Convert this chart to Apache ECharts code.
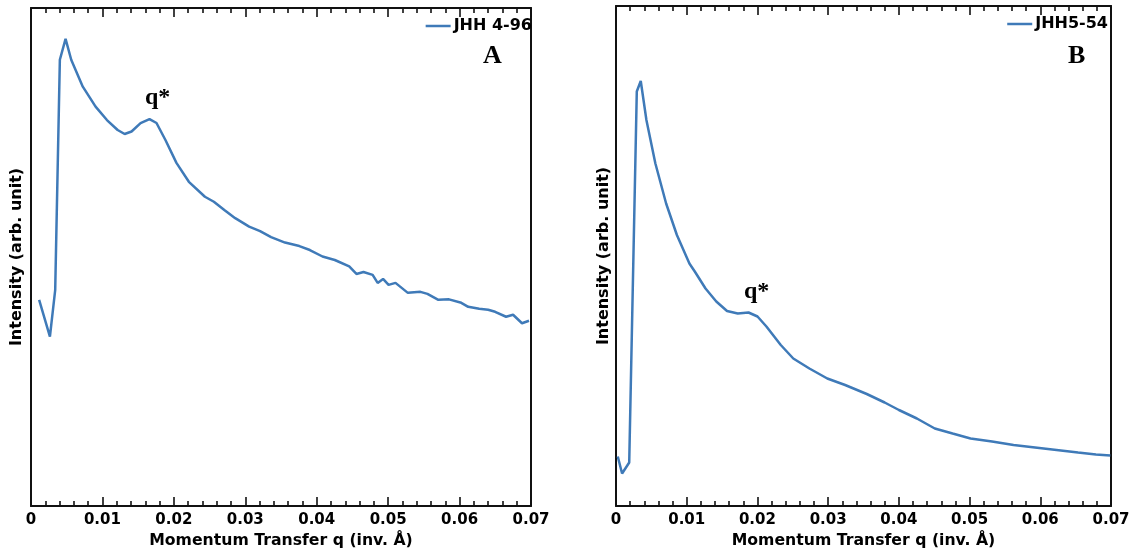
<!DOCTYPE html>
<html>
<head>
<meta charset="utf-8">
<script src="https://cdn.jsdelivr.net/npm/echarts@6/dist/echarts.min.js"></script>
<style>
html,body{margin:0;padding:0;background:#fff;}
#chart{width:1129px;height:548px;}
</style>
</head>
<body>
<div id="chart"></div>
<script>
// ---- Data ----
const seriesNameA = 'JHH 4-96';
const seriesNameB = 'JHH5-54';
const xTitle = 'Momentum Transfer q (inv. \u00C5)';
const yTitle = 'Intensity (arb. unit)';
const xTickValues = [0, 0.01, 0.02, 0.03, 0.04, 0.05, 0.06, 0.07];

// Panel A: q (inv. Å)
const qA = [0.00114,0.00265,0.00339,0.00404,0.00484,0.00563,0.00725,0.00904,0.01063,0.01213,
  0.01311,0.01408,0.01534,0.01659,0.01757,0.01882,0.02036,0.0221,0.02435,0.0256,
  0.02711,0.02859,0.03054,0.03207,0.03361,0.03556,0.03757,0.03904,0.04081,0.04253,
  0.04455,0.04556,0.04655,0.04783,0.04853,0.04929,0.05006,0.05103,0.05276,0.05452,
  0.0555,0.05703,0.05852,0.06024,0.06121,0.06275,0.064,0.06498,0.06651,0.06749,
  0.06874,0.06972];
// Panel A: intensity (arb. unit)
const iA = [41.4,34.0,43.4,89.6,93.8,89.6,84.2,80.2,77.5,75.5,
  74.7,75.2,76.9,77.7,76.9,73.5,68.9,65.1,62.1,61.1,
  59.4,57.8,56.1,55.2,54.0,52.9,52.2,51.4,50.1,49.4,
  48.1,46.6,47.0,46.4,44.8,45.6,44.4,44.8,42.8,43.0,
  42.6,41.4,41.5,40.8,40.0,39.6,39.4,39.0,38.0,38.4,
  36.7,37.2];

// Panel B: q (inv. Å)
const qB = [0.00025,0.00086,0.00187,0.00294,0.0035,0.0043,0.00557,0.00709,0.00861,0.01038,
  0.01114,0.01266,0.01418,0.0157,0.01722,0.01874,0.02001,0.02127,0.0233,0.02507,
  0.02735,0.02988,0.0324,0.03546,0.03799,0.04001,0.04255,0.04508,0.0476,0.05014,
  0.05318,0.05622,0.05926,0.0623,0.06534,0.06787,0.0699];
// Panel B: intensity (arb. unit)
const iB = [9.9,6.5,8.7,82.9,85.0,77.2,68.5,60.5,54.2,48.5,
  46.9,43.5,40.9,39.0,38.5,38.7,37.9,35.9,32.2,29.5,
  27.5,25.5,24.2,22.4,20.7,19.2,17.5,15.5,14.5,13.5,
  12.9,12.2,11.7,11.2,10.7,10.3,10.1];

const annotations = ['q*', 'A', 'B'];

// ---- Chart ----
const LINE = '#3f7ab8';
const AX = '#111';
const SANS = '"DejaVu Sans", sans-serif';
const SERIF = '"Liberation Serif", "DejaVu Serif", serif';

function zip(xs, ys){ return xs.map((x,i)=>[x, ys[i]]); }

function xAxisBottom(gi){
  return {
    type:'value', gridIndex:gi, position:'bottom',
    min:xTickValues[0], max:xTickValues[xTickValues.length-1], interval:0.01,
    axisLine:{show:true, onZero:false, lineStyle:{color:AX, width:2}},
    axisTick:{show:true, inside:true, length:9, lineStyle:{color:AX, width:1.6}},
    minorTick:{show:true, splitNumber:5, length:5, lineStyle:{color:AX, width:1.6}},
    splitLine:{show:false}, minorSplitLine:{show:false},
    axisLabel:{show:true, margin:7, color:'#000', fontFamily:SANS, fontWeight:'bold', fontSize:15,
      formatter:function(v){ return v===0 ? '0' : v.toFixed(2); }},
    name:xTitle, nameLocation:'middle', nameGap:23,
    nameTextStyle:{color:'#000', fontFamily:SANS, fontWeight:'bold', fontSize:15.7}
  };
}
function xAxisTop(gi){
  return {
    type:'value', gridIndex:gi, position:'top',
    min:xTickValues[0], max:xTickValues[xTickValues.length-1], interval:0.01,
    axisLine:{show:true, onZero:false, lineStyle:{color:AX, width:2}},
    axisTick:{show:true, inside:true, length:9, lineStyle:{color:AX, width:1.6}},
    minorTick:{show:true, splitNumber:5, length:5, lineStyle:{color:AX, width:1.6}},
    splitLine:{show:false}, minorSplitLine:{show:false},
    axisLabel:{show:false}
  };
}
function yAxisLeft(gi, gap){
  return {
    type:'value', gridIndex:gi, position:'left', min:0, max:100,
    axisLine:{show:true, onZero:false, lineStyle:{color:AX, width:2}},
    axisTick:{show:false}, axisLabel:{show:false}, splitLine:{show:false},
    name:yTitle, nameLocation:'middle', nameGap:gap,
    nameTextStyle:{color:'#000', fontFamily:SANS, fontWeight:'bold', fontSize:16}
  };
}
function yAxisRight(gi){
  return {
    type:'value', gridIndex:gi, position:'right', min:0, max:100,
    axisLine:{show:true, onZero:false, lineStyle:{color:AX, width:2}},
    axisTick:{show:false}, axisLabel:{show:false}, splitLine:{show:false}
  };
}

const chart = echarts.init(document.getElementById('chart'), null, {renderer:'canvas'});
chart.setOption({
  backgroundColor:'#fff',
  animation:false,
  grid:[
    {left:31, right:1129-531, top:8, bottom:548-506, containLabel:false, outerBoundsMode:'none'},
    {left:616, right:1129-1111, top:6, bottom:548-506, containLabel:false, outerBoundsMode:'none'}
  ],
  xAxis:[xAxisBottom(0), xAxisTop(0), xAxisBottom(1), xAxisTop(1)],
  yAxis:[yAxisLeft(0,6), yAxisRight(0), yAxisLeft(1,4), yAxisRight(1)],
  legend:[
    {data:[seriesNameA], right:1129-532, top:18, padding:0, icon:'rect', itemWidth:25, itemHeight:2.5, itemGap:0,
      textStyle:{color:'#000', fontFamily:SANS, fontWeight:'bold', fontSize:16, padding:[0,0,0,-2]}},
    {data:[seriesNameB], right:1129-1108, top:16, padding:0, icon:'rect', itemWidth:25, itemHeight:2.5, itemGap:0,
      textStyle:{color:'#000', fontFamily:SANS, fontWeight:'bold', fontSize:16, padding:[0,0,0,-2]}}
  ],
  series:[
    {name:seriesNameA, type:'line', xAxisIndex:0, yAxisIndex:0, data:zip(qA,iA),
      showSymbol:false, symbol:'none', lineStyle:{color:LINE, width:2.5}, itemStyle:{color:LINE}},
    {name:seriesNameB, type:'line', xAxisIndex:2, yAxisIndex:2, data:zip(qB,iB),
      showSymbol:false, symbol:'none', lineStyle:{color:LINE, width:2.5}, itemStyle:{color:LINE}}
  ],
  graphic:[
    {type:'text', left:145, top:86, style:{text:annotations[0], fill:'#000', font:'bold 24px '+SERIF}},
    {type:'text', left:744, top:280, style:{text:annotations[0], fill:'#000', font:'bold 24px '+SERIF}},
    {type:'text', left:483, top:43, style:{text:annotations[1], fill:'#000', font:'bold 26px '+SERIF}},
    {type:'text', left:1068, top:43, style:{text:annotations[2], fill:'#000', font:'bold 26px '+SERIF}}
  ]
});
</script>
</body>
</html>
